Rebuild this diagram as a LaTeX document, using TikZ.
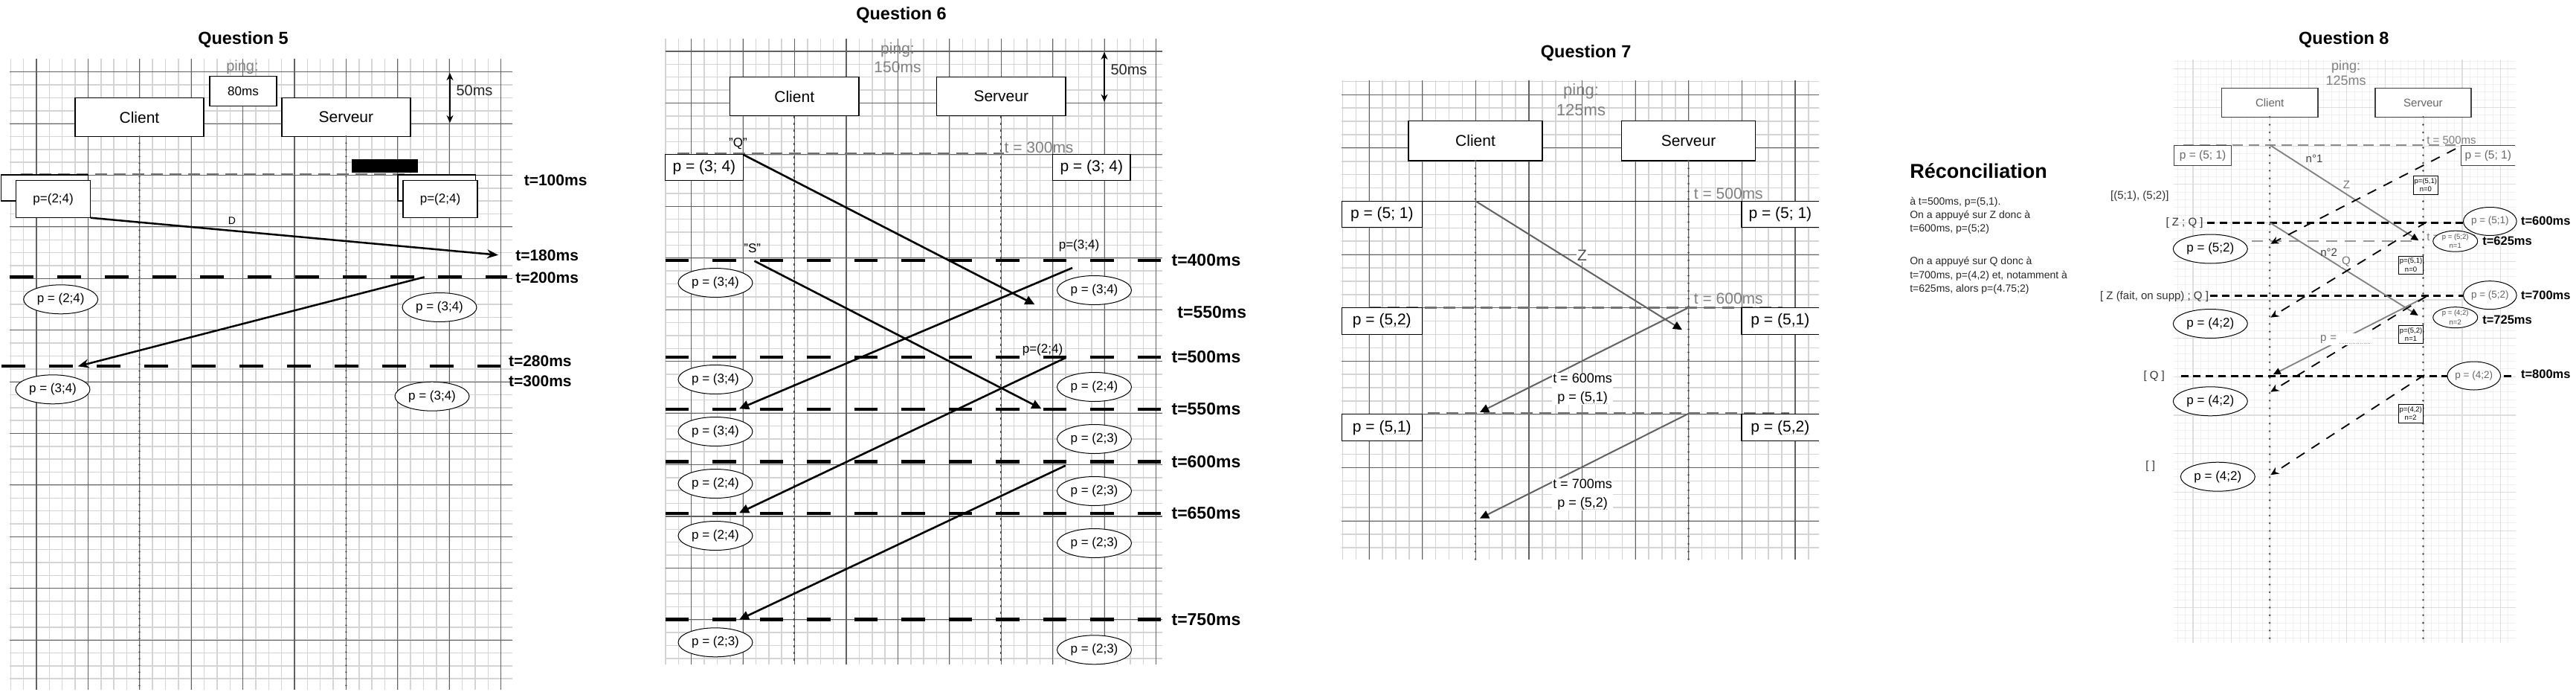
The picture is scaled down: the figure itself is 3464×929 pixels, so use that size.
\documentclass[tikz,border=0pt]{standalone}
\usepackage{fontspec}
\setmainfont{Liberation Sans}
\usetikzlibrary{arrows.meta,shapes.geometric}
\newcommand\fsz[1]{\fontsize{#1}{#1}\selectfont}
\newsavebox\dubox
\newcommand\dotu[1]{\sbox\dubox{#1}\leavevmode\rlap{\raisebox{-4pt}[0pt][0pt]{\hbox to \wd\dubox{\color{black!55}\fontsize{8}{8}\selectfont\xleaders\hbox to 2.5pt{\hss.\hss}\hfill}}}\usebox\dubox}
% grid: #1 L, #2 T, #3 R, #4 B, #5 a major x, #6 a major y, #7 minor step, #8 minors per major, #9 style prefix
\newcommand\drawgrid[9]{%
 \pgfmathsetmacro\gxs{#5-floor((#5-(#1))/(#7))*(#7)}%
 \pgfmathtruncatemacro\gnx{floor(((#3)-\gxs)/(#7))}%
 \foreach \k in {0,...,\gnx}{\draw[#9minor] ({\gxs+\k*(#7)},#2) -- ({\gxs+\k*(#7)},#4);}%
 \pgfmathsetmacro\gys{#6-floor((#6-(#2))/(#7))*(#7)}%
 \pgfmathtruncatemacro\gny{floor(((#4)-\gys)/(#7))}%
 \foreach \k in {0,...,\gny}{\draw[#9minor] (#1,{\gys+\k*(#7)}) -- (#3,{\gys+\k*(#7)});}%
 \pgfmathsetmacro\gM{(#7)*(#8)}%
 \pgfmathsetmacro\gxs{#5-floor((#5-(#1))/\gM)*\gM}%
 \pgfmathtruncatemacro\gnx{floor(((#3)-\gxs)/\gM)}%
 \foreach \k in {0,...,\gnx}{\draw[#9major] ({\gxs+\k*\gM},#2) -- ({\gxs+\k*\gM},#4);}%
 \pgfmathsetmacro\gys{#6-floor((#6-(#2))/\gM)*\gM}%
 \pgfmathtruncatemacro\gny{floor(((#4)-\gys)/\gM)}%
 \foreach \k in {0,...,\gny}{\draw[#9major] (#1,{\gys+\k*\gM}) -- (#3,{\gys+\k*\gM});}%
}
% box from corners: name, x1, y1, x2, y2, style
\newcommand\cbox[6]{\node[#6, minimum width={(#4)-(#2)}, minimum height={(#5)-(#3)}] (#1) at ({((#2)+(#4))/2},{((#3)+(#5))/2})}
\tikzset{
 every node/.style={inner sep=0pt, outer sep=0pt},
 gAminor/.style={draw=black!17, line width=1.5pt},
 gAmajor/.style={draw=black!62, line width=1.1pt},
 gBminor/.style={draw=black!6, line width=1pt},
 gBmajor/.style={draw=black!13, line width=1.2pt},
 lifeA/.style={draw=black!70, line width=2.6pt, line cap=round, dash pattern=on 0pt off 9pt},
 lifeB/.style={draw=black!70, line width=2.2pt, dash pattern=on 3pt off 6pt},
 lifeC/.style={draw=black!70, line width=2.8pt, line cap=round, dash pattern=on 0pt off 10.3pt},
 actor/.style={draw=black, line width=1.4pt, fill=white, rectangle},
 pbox/.style={draw=black, line width=1.2pt, fill=white, rectangle},
 pell/.style={draw=black, line width=1pt, fill=white, ellipse, minimum width=100pt, minimum height=39pt, font=\fsz{17}},
 ttl/.style={font=\bfseries\fsz{23.5}},
 tlab/.style={font=\bfseries\fsz{21}, anchor=west},
 tlabB/.style={font=\bfseries\fsz{23}, anchor=west},
 tlabD/.style={font=\bfseries\fsz{16.5}, anchor=west},
 greytxt/.style={text=black!50},
 tdash/.style={line width=4pt, dash pattern=on 32pt off 32pt},
 tdashB/.style={line width=4.5pt, dash pattern=on 31.5pt off 32pt},
 tdashD/.style={line width=2.6pt, dash pattern=on 10pt off 6.7pt},
 gdash/.style={draw=black!55, line width=3pt, dash pattern=on 16pt off 9pt},
 gdashD/.style={draw=black!45, line width=2pt, dash pattern=on 14pt off 8pt},
 gdashE/.style={draw=black!40, line width=2.6pt, dash pattern=on 15pt off 10pt},
 dbl/.style={line width=2pt, {Stealth[length=10pt,width=9pt]}-{Stealth[length=10pt,width=9pt]}},
 aQ5/.style={line width=2.5pt, -{Stealth[length=15pt,width=12pt,inset=5pt]}},
 aQ6/.style={line width=2.6pt, -{Triangle[length=13pt,width=12pt]}},
 aQ7/.style={draw=black!62, line width=2pt, -{Triangle[length=12pt,width=11pt,color=black]}},
 aQ8g/.style={draw=black!50, line width=1.8pt, -{Triangle[length=10pt,width=9pt,color=black]}},
 aQ8d/.style={line width=1.8pt, dash pattern=on 13pt off 11pt, -{Stealth[length=11pt,width=10pt,inset=3.5pt]}},
 q8box/.style={draw=black!75, line width=1.2pt, fill=white, rectangle, text=black!60},
 q8small/.style={draw=black, line width=1pt, fill=white, rectangle, align=center, font=\fontsize{9.5}{11.5}\selectfont},
 q8sell/.style={draw=black, line width=1pt, fill=white, ellipse, minimum width=60pt, minimum height=28pt, align=center, text=black!70, font=\fontsize{9.5}{12.5}\selectfont},
 q8rell/.style={draw=black, line width=1pt, fill=white, ellipse, minimum width=70pt, minimum height=38pt, text=black!60, font=\fsz{13.5}},
 rtxt/.style={anchor=west, font=\fsz{14}, text=black!85},
 brk/.style={font=\fsz{15}, text=black!80},
}
\begin{document}
\begin{tikzpicture}[x=1pt,y=-1pt]
\useasboundingbox (0,0) rectangle (3464,929);
\fill[white] (0,0) rectangle (3464,929);

% ================= Question 5 =================
\drawgrid{13}{79.4}{689}{927}{49}{96.7}{17.35}{4}{gA}
\node[ttl] (q5t) at (327,53) {Question 5};
\node[font=\fsz{20}, greytxt] (q5p) at (326,90) {ping:};
\cbox{q5ms}{282}{102.7}{372}{142.7}{pbox, font=\fsz{17}}{80ms};
\cbox{q5c}{101}{131.7}{274}{183.3}{actor, font=\fsz{21}}{Client};
\cbox{q5s}{378.8}{131.7}{552}{183.3}{actor, font=\fsz{21}}{Serveur};
\coordinate (q5ce) at (187.5,927);
\coordinate (q5se) at (465.4,927);
\draw[lifeA] (q5c.south) -- (q5ce);
\draw[lifeA] (q5s.south) -- (q5se);
\coordinate (q5h1) at (605,98);
\coordinate (q5h2) at (605,165);
\draw[dbl] (q5h1) -- (q5h2);
\node[font=\fsz{20}, text=black!85] (q5h) at (638,121.7) {50ms};
\coordinate (q5g1) at (28,234.3);
\coordinate (q5g2) at (551,234.3);
\draw[gdash] (q5g1) -- (q5g2);
\cbox{q5blk}{473}{214}{562}{231.7}{fill=black}{};
\cbox{q5lb}{1.4}{235}{118.5}{270}{pbox}{};
\cbox{q5lf}{21.6}{242.7}{121.7}{292.7}{pbox, font=\fsz{17}}{p=(2;4)};
\cbox{q5rb}{535}{235}{639.6}{270}{pbox}{};
\cbox{q5rf}{542}{242.7}{642}{292.7}{pbox, font=\fsz{17}}{p=(2;4)};
\coordinate (q5d) at (670,342.7);
\draw[aQ5] (q5lf.south east) -- (q5d);
\node[font=\fsz{14}] (q5D) at (312,297) {D};
\coordinate (q5l1a) at (13,372.3);
\coordinate (q5l1b) at (682,372.3);
\draw[tdash] (q5l1a) -- (q5l1b);
\coordinate (q5l2a) at (2.3,492.3);
\coordinate (q5l2b) at (672.6,492.3);
\draw[tdash] (q5l2a) -- (q5l2b);
\coordinate (q5r1) at (570.7,372.3);
\coordinate (q5r2) at (104.7,492.3);
\draw[aQ5] (q5r1) -- (q5r2);
\node[pell] (q5e1) at (81.7,402.3) {p = (2;4)};
\node[pell] (q5e2) at (591,413) {p = (3;4)};
\node[pell] (q5e3) at (71,523.3) {p = (3;4)};
\node[pell] (q5e4) at (581,532.7) {p = (3;4)};
\node[tlab] (q5t1) at (704.8,242.7) {t=100ms};
\node[tlab] (q5t2) at (693.3,343.3) {t=180ms};
\node[tlab] (q5t3) at (693.3,373.3) {t=200ms};
\node[tlab] (q5t4) at (684,485) {t=280ms};
\node[tlab] (q5t5) at (684,512.7) {t=300ms};

% ================= Question 6 =================
\drawgrid{894.6}{51.7}{1562.5}{892.7}{929.7}{69}{17.36}{4}{gA}
\node[ttl] (q6t) at (1212,20) {Question 6};
\node[font=\fsz{21}, greytxt] (q6p) at (1207,66.7) {ping:};
\node[font=\fsz{21}, greytxt] (q6pm) at (1207,90.7) {150ms};
\cbox{q6c}{981.5}{103.7}{1155}{155.7}{actor, font=\fsz{21}}{Client};
\cbox{q6s}{1259.7}{103.7}{1432.8}{155.7}{actor, font=\fsz{21}}{Serveur};
\coordinate (q6ce) at (1068.25,892.7);
\coordinate (q6se) at (1346.25,892.7);
\draw[lifeB] (q6c.south) -- (q6ce);
\draw[lifeB] (q6s.south) -- (q6se);
\coordinate (q6h1) at (1485,70);
\coordinate (q6h2) at (1485,136.7);
\draw[dbl] (q6h1) -- (q6h2);
\node[font=\fsz{20}, text=black!85] (q6h) at (1518,94) {50ms};
\node[font=\fsz{17}] (q6Q) at (992.4,193.3) {"Q"};
\node[font=\fsz{21}, greytxt, anchor=west] (q6t300) at (1350.7,198.3) {t = 300ms};
\coordinate (q6g1) at (911,206.7);
\coordinate (q6g2) at (1350,206.7);
\draw[gdash] (q6g1) -- (q6g2);
\cbox{q6lr}{894.6}{207.7}{999.2}{242.7}{pbox, font=\fsz{21}}{p = (3; 4)};
\cbox{q6rr}{1415.6}{207.7}{1520}{242.7}{pbox, font=\fsz{21}}{p = (3; 4)};
\node[font=\fsz{17}] (q6S) at (1011.8,333.3) {"S"};
\node[font=\fsz{17}] (q6m1) at (1451,330) {p=(3;4)};
\node[font=\fsz{17}] (q6m2) at (1402,470) {p=(2;4)};
\foreach \yy/\nm in {350/a,480/b,550/c,620.7/d,690/e,832.7/f}{
  \coordinate (q6d\nm1) at (894.6,\yy);
  \coordinate (q6d\nm2) at (1562.5,\yy);
  \draw[tdashB] (q6d\nm1) -- (q6d\nm2);
}
\coordinate (q6a1) at (1391.5,409.3);
\draw[aQ6] (q6lr.north east) -- (q6a1);
\coordinate (q6b0) at (1014.4,350.7);
\coordinate (q6b1) at (1400.4,549.3);
\draw[aQ6] (q6b0) -- (q6b1);
\coordinate (q6c0) at (1442,360);
\coordinate (q6c1) at (994,549.3);
\draw[aQ6] (q6c0) -- (q6c1);
\coordinate (q6e0) at (1433.3,480.7);
\coordinate (q6e1) at (994,689.3);
\draw[aQ6] (q6e0) -- (q6e1);
\coordinate (q6f0) at (1432.8,625.7);
\coordinate (q6f1) at (994,832.7);
\draw[aQ6] (q6f0) -- (q6f1);
\node[pell] (q6l1) at (962,380) {p = (3;4)};
\node[pell] (q6l2) at (962,510) {p = (3;4)};
\node[pell] (q6l3) at (962,580) {p = (3;4)};
\node[pell] (q6l4) at (962,650) {p = (2;4)};
\node[pell] (q6l5) at (962,720) {p = (2;4)};
\node[pell] (q6l6) at (962,863.3) {p = (2;3)};
\node[pell] (q6r1) at (1471.5,390) {p = (3;4)};
\node[pell] (q6r2) at (1471.5,520) {p = (2;4)};
\node[pell] (q6r3) at (1471.5,590) {p = (2;3)};
\node[pell] (q6r4) at (1471.5,660) {p = (2;3)};
\node[pell] (q6r5) at (1471.5,730) {p = (2;3)};
\node[pell] (q6r6) at (1471.5,873.3) {p = (2;3)};
\node[tlabB] (q6t1) at (1575.6,350) {t=400ms};
\node[tlabB] (q6t2) at (1583.4,420) {t=550ms};
\node[tlabB] (q6t3) at (1575.6,480) {t=500ms};
\node[tlabB] (q6t4) at (1575.6,550) {t=550ms};
\node[tlabB] (q6t5) at (1575.6,620.7) {t=600ms};
\node[tlabB] (q6t6) at (1575.6,690) {t=650ms};
\node[tlabB] (q6t7) at (1575.6,832.7) {t=750ms};

% ================= Question 7 =================
\drawgrid{1804.3}{108.3}{2445.7}{751.7}{1841.2}{127.3}{17.9}{4}{gA}
\node[ttl] (q7t) at (2132.6,71.7) {Question 7};
\node[font=\fsz{22}, greytxt] (q7p) at (2126,123.3) {ping:};
\node[font=\fsz{22}, greytxt] (q7pm) at (2126,148.3) {125ms};
\cbox{q7c}{1894}{162.7}{2074}{216}{actor, font=\fsz{21}}{Client};
\cbox{q7s}{2180.7}{162.7}{2360.3}{216}{actor, font=\fsz{21}}{Serveur};
\coordinate (q7ce) at (1984,751.7);
\coordinate (q7se) at (2270.5,751.7);
\draw[lifeC] (q7c.south) -- (q7ce);
\draw[lifeC] (q7s.south) -- (q7se);
\node[font=\fsz{21}, greytxt, anchor=west] (q7t500) at (2277.9,260) {t = 500ms};
\coordinate (q7s1) at (1804.3,270.3);
\coordinate (q7s2) at (2445.7,270.3);
\draw[line width=1.6pt] (q7s1) -- (q7s2);
\node[font=\fsz{21}, greytxt, anchor=west] (q7t600) at (2277.9,401.7) {t = 600ms};
\coordinate (q7g1) at (1841,413.3);
\coordinate (q7g2) at (2397,413.3);
\draw[gdash] (q7g1) -- (q7g2);
\coordinate (q7g3) at (1920,555.7);
\coordinate (q7g4) at (2406,555.7);
\draw[gdash] (q7g3) -- (q7g4);
\cbox{q7l1}{1804.3}{270.3}{1912.3}{305.7}{pbox, font=\fsz{21}}{p = (5; 1)};
\cbox{q7l2}{1804.3}{413.3}{1912.3}{449.3}{pbox, font=\fsz{21}}{p = \dotu{(5,2)}};
\cbox{q7l3}{1804.3}{556.7}{1912.3}{592.7}{pbox, font=\fsz{21}}{p = \dotu{(5,1)}};
\cbox{q7r1}{2342}{270.3}{2445.7}{305.7}{fill=white, font=\fsz{21}}{p = (5; 1)};
\cbox{q7r2}{2342}{413.3}{2445.7}{449.3}{fill=white, font=\fsz{21}}{p = \dotu{(5,1)}};
\cbox{q7r3}{2342}{556.7}{2445.7}{592.7}{fill=white, font=\fsz{21}}{p = \dotu{(5,2)}};
\foreach \nm in {q7r1,q7r2,q7r3}{
  \draw[line width=1.3pt] (\nm.north east) -- (\nm.north west) -- (\nm.south west) -- (\nm.south east);
}
\coordinate (q7z0) at (1984.4,270.3);
\coordinate (q7z1) at (2262,443.3);
\draw[aQ7] (q7z0) -- (q7z1);
\node[font=\fsz{21}, fill=white, text=black!70, inner sep=1pt] (q7Z) at (2127.4,343.3) {Z};
\coordinate (q7a0) at (2270.8,413.3);
\coordinate (q7a1) at (1990,554);
\draw[aQ7] (q7a0) -- (q7a1);
\coordinate (q7b0) at (2270.8,555.7);
\coordinate (q7b1) at (1990,696.7);
\draw[aQ7] (q7b0) -- (q7b1);
\node[font=\fontsize{18}{25}\selectfont, fill=white, align=center, inner sep=1pt] (q7m1) at (2128,522.5) {t = 600ms\\p = \dotu{(5,1)}};
\node[font=\fontsize{18}{25}\selectfont, fill=white, align=center, inner sep=1pt] (q7m2) at (2128,664.2) {t = 700ms\\p = \dotu{(5,2)}};

% ================= Réconciliation =================
\node[font=\bfseries\fsz{27}, anchor=west] (rec) at (2568.3,230) {Réconciliation};
\node[rtxt] (rec1) at (2568.3,271.7) {à t=500ms, p=(5,1).};
\node[rtxt] (rec2) at (2568.3,290) {On a appuyé sur Z donc à};
\node[rtxt] (rec3) at (2568.3,308.3) {t=600ms, p=(5;2)};
\node[rtxt] (rec4) at (2568.3,351.7) {On a appuyé sur Q donc à};
\node[rtxt] (rec5) at (2568.3,370.7) {t=700ms, p=(4,2) et, notamment à};
\node[rtxt] (rec6) at (2568.3,389.3) {t=625ms, alors p=(4.75;2)};

% ================= Question 8 =================
\drawgrid{2922.7}{80}{3382.7}{864}{2949}{92.7}{10.34}{5}{gB}
\node[ttl] (q8t) at (3151.8,53.3) {Question 8};
\node[font=\fsz{18}, greytxt] (q8p) at (3154.7,90) {ping:};
\node[font=\fsz{18}, greytxt] (q8pm) at (3154.7,108.3) {125ms};
\cbox{q8c}{2987.4}{118.7}{3116.9}{157.3}{q8box, font=\fsz{15}}{Client};
\cbox{q8s}{3193.9}{118.7}{3323}{157.3}{q8box, font=\fsz{15}}{Serveur};
\coordinate (q8ce) at (3052.15,864);
\coordinate (q8se) at (3258.45,864);
\draw[lifeC] (q8c.south) -- (q8ce);
\draw[lifeC] (q8s.south) -- (q8se);
\node[font=\fsz{15}, greytxt, anchor=west] (q8t500) at (3263.3,188.5) {t = 500ms};
\coordinate (q8g1) at (2936,195);
\coordinate (q8g2) at (3309,195);
\draw[gdashD] (q8g1) -- (q8g2);
\cbox{q8l1}{2923.4}{195.7}{3000.7}{222.3}{q8box, font=\fsz{15.5}}{p = (5; 1)};
\cbox{q8r1}{3309.4}{195.7}{3382}{222.3}{fill=white, text=black!60, font=\fsz{15.5}}{p = (5; 1)};
\draw[draw=black!75, line width=1.2pt] (q8r1.north east) -- (q8r1.north west) -- (q8r1.south west) -- (q8r1.south east);
% bracket notes
\node[brk] (q8b0) at (2877.3,264) {[(5;1), (5;2)]};
\node[brk] (q8b1) at (2937.5,300) {[ Z ; Q ]};
\node[brk] (q8b2) at (2897,399) {[ Z (fait, on supp) ; Q ]};
\node[brk] (q8b3) at (2896.7,505.5) {[ Q ]};
\node[brk] (q8b4) at (2891.7,626.7) {[ ]};
% horizontal lines
\coordinate (q8h1a) at (2968.3,299.3);
\coordinate (q8h1b) at (3313,299.3);
\draw[tdashD] (q8h1a) -- (q8h1b);
\coordinate (q8h2a) at (3028.3,324);
\coordinate (q8h2b) at (3250,324);
\draw[gdashE] (q8h2a) -- (q8h2b);
\coordinate (q8h3a) at (2971.7,397.7);
\coordinate (q8h3b) at (3313,397.7);
\draw[tdashD] (q8h3a) -- (q8h3b);
\coordinate (q8h4a) at (2932.7,505.5);
\coordinate (q8h4b) at (3383,505.5);
\draw[tdashD] (q8h4a) -- (q8h4b);
% messages
\coordinate (q8z0) at (3052.4,195);
\coordinate (q8z1) at (3252.5,323.3);
\draw[aQ8g] (q8z0) -- (q8z1);
\coordinate (q8q0) at (3052.4,299.3);
\coordinate (q8q1) at (3251.7,424);
\draw[aQ8g] (q8q0) -- (q8q1);
\coordinate (q8k0) at (3261.7,399);
\coordinate (q8k1) at (3056.7,503.3);
\draw[aQ8g] (q8k0) -- (q8k1);
\coordinate (q8d1a) at (3302,200);
\coordinate (q8d1b) at (3053.3,327.7);
\draw[aQ8d] (q8d1a) -- (q8d1b);
\coordinate (q8d2a) at (3263,298.3);
\coordinate (q8d2b) at (3053.3,426.7);
\draw[aQ8d] (q8d2a) -- (q8d2b);
\coordinate (q8d3a) at (3262.7,398.3);
\coordinate (q8d3b) at (3053.3,526.7);
\draw[aQ8d] (q8d3a) -- (q8d3b);
\coordinate (q8d4a) at (3260,504);
\coordinate (q8d4b) at (3053.3,638.3);
\draw[aQ8d] (q8d4a) -- (q8d4b);
\node[font=\fsz{15}, text=black!75] (q8n1) at (3112,213.3) {n°1};
\node[font=\fsz{15}, text=black!55, fill=white, inner sep=1pt] (q8Z) at (3155.4,248.3) {Z};
\node[font=\fsz{15}, text=black!75] (q8n2) at (3131.7,339.3) {n°2};
\node[font=\fsz{15}, text=black!55, fill=white, inner sep=1pt] (q8Q) at (3155,351.7) {Q};
\node[font=\fsz{15}, text=black!55, fill=white, anchor=west, minimum width=70pt, minimum height=16pt, align=left, text width=70pt] (q8pl) at (3120,456) {p =};
\coordinate (q8u1) at (3146,461);
\coordinate (q8u2) at (3187,461);
\draw[black!40, line width=1pt, dash pattern=on 1pt off 1.5pt] (q8u1) -- (q8u2);
% small boxes
\cbox{q8sb1}{3245.3}{236.7}{3278.4}{261}{q8small}{p=(5,1)\\n=0};
\cbox{q8sb2}{3225.7}{344.3}{3258.3}{368.3}{q8small}{p=(5,1)\\n=0};
\cbox{q8sb3}{3225.7}{437.7}{3258.3}{461}{q8small}{p=(5,2)\\n=1};
\cbox{q8sb4}{3225}{543.3}{3258.3}{568.3}{q8small}{p=(4,2)\\n=2};
% ellipses
\node[pell] (q8e1) at (2972.3,334.5) {p = (5;2)};
\node[pell] (q8e2) at (2972.3,435) {p = (4;2)};
\node[pell] (q8e3) at (2972.3,539.3) {p = (4;2)};
\node[pell] (q8e4) at (2982.3,640.7) {p = (4;2)};
\node[q8rell] (q8re1) at (3348.3,297.5) {p = (5;1)};
\node[q8rell] (q8re2) at (3348.3,396.7) {p = (5;2)};
\node[q8rell] (q8re3) at (3326.7,505) {p = (4;2)};
\node[font=\fsz{15}, greytxt, anchor=west] (q8t625) at (3263.3,318.3) {t = 625ms};
\node[q8sell] (q8se1) at (3301.7,324.2) {p = (5;2)\\n=1};
\node[q8sell] (q8se2) at (3301.7,426.7) {p = (4;2)\\n=2};
\node[tlabD] (q8l1) at (3390,296.7) {t=600ms};
\node[tlabD] (q8l2) at (3338.3,324) {t=625ms};
\node[tlabD] (q8l3) at (3390,396.7) {t=700ms};
\node[tlabD] (q8l4) at (3338.3,430) {t=725ms};
\node[tlabD] (q8l5) at (3390,503.3) {t=800ms};
\end{tikzpicture}
\end{document}
